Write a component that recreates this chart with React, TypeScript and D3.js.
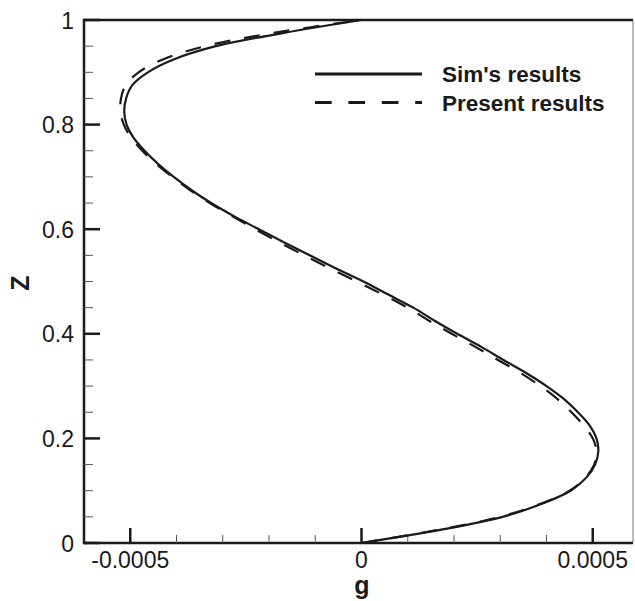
import React, { useRef, useEffect } from "react";
import * as d3 from "d3";

const zValues = [
  0, 0.025, 0.05, 0.075, 0.1, 0.125, 0.15, 0.175, 0.2, 0.225, 0.25, 0.275,
  0.3, 0.325, 0.35, 0.375, 0.4, 0.425, 0.45, 0.475, 0.5, 0.525, 0.55, 0.575,
  0.6, 0.625, 0.65, 0.675, 0.7, 0.725, 0.75, 0.775, 0.8, 0.825, 0.85, 0.875,
  0.9, 0.925, 0.95, 0.975, 1,
];

// Sim's results (solid)
const simG = [
  0, 0.00017, 0.000305, 0.00039, 0.000452, 0.000486, 0.000505, 0.000512,
  0.000508, 0.000493, 0.000468, 0.000438, 0.0004, 0.000356, 0.000307,
  0.000259, 0.000207, 0.000158, 0.000112, 0.000058, 0.000004, -0.000055,
  -0.000112, -0.000168, -0.000222, -0.000276, -0.000325, -0.000368, -0.000406,
  -0.00044, -0.000469, -0.000493, -0.000508, -0.000513, -0.000509, -0.000496,
  -0.000462, -0.000405, -0.000315, -0.00017, 0,
];

// Present results (dashed)
const presentG = [
  0, 0.000165, 0.0003, 0.000387, 0.00045, 0.000484, 0.000503, 0.000508,
  0.0005, 0.00048, 0.000454, 0.000424, 0.000387, 0.000344, 0.000295,
  0.000246, 0.000195, 0.000146, 0.0001, 0.000046, -0.00001, -0.000068,
  -0.000124, -0.000178, -0.00023, -0.00028, -0.000328, -0.000371, -0.000409,
  -0.000444, -0.000474, -0.000498, -0.000514, -0.000521, -0.00052, -0.00051,
  -0.000482, -0.000428, -0.000338, -0.000192, 0,
];

const xMajorTicks = [-0.0005, 0, 0.0005];
const xTickLabels = ["-0.0005", "0", "0.0005"];
const xMinorTicks = [-0.0004, -0.0003, -0.0002, -0.0001, 0.0001, 0.0002, 0.0003, 0.0004];
const yMajorTicks = [0, 0.2, 0.4, 0.6, 0.8, 1];
const yMinorTicks = [0.05, 0.1, 0.15, 0.25, 0.3, 0.35, 0.45, 0.5, 0.55, 0.65, 0.7, 0.75, 0.85, 0.9, 0.95];

const legendItems = [
  { label: "Sim's results", dash: "none" },
  { label: "Present results", dash: "16.7,16.7" },
];

const App = () => {
  const ref = useRef(null);

  useEffect(() => {
    const width = 635;
    const height = 601;
    const left = 84;
    const right = 633;
    const top = 20;
    const bottom = 543;

    const svg = d3.select(ref.current);
    svg.selectAll("*").remove();

    const x = d3.scaleLinear().domain([-0.0006, 0.000587]).range([left, right]);
    const y = d3.scaleLinear().domain([0, 1]).range([bottom, top]);

    const font = "'Liberation Sans', Arial, sans-serif";
    const ink = "#1a1a1a";

    // frame
    svg.append("line").attr("x1", left).attr("x2", right).attr("y1", top).attr("y2", top)
      .attr("stroke", ink).attr("stroke-width", 2.5);
    svg.append("line").attr("x1", left).attr("x2", right).attr("y1", bottom).attr("y2", bottom)
      .attr("stroke", ink).attr("stroke-width", 2.5);
    svg.append("line").attr("x1", left).attr("x2", left).attr("y1", top - 1.2).attr("y2", bottom + 1.2)
      .attr("stroke", ink).attr("stroke-width", 2.5);
    svg.append("line").attr("x1", right).attr("x2", right).attr("y1", top).attr("y2", bottom)
      .attr("stroke", "#777").attr("stroke-width", 1);

    // x ticks (drawn inward)
    svg.selectAll(".xmin").data(xMinorTicks).enter().append("line")
      .attr("x1", (d) => x(d)).attr("x2", (d) => x(d))
      .attr("y1", bottom).attr("y2", bottom - 8)
      .attr("stroke", "#555").attr("stroke-width", 1);
    svg.selectAll(".xmaj").data(xMajorTicks).enter().append("line")
      .attr("x1", (d) => x(d)).attr("x2", (d) => x(d))
      .attr("y1", bottom).attr("y2", bottom - 15)
      .attr("stroke", ink).attr("stroke-width", 2.5);
    svg.selectAll(".xlab").data(xMajorTicks).enter().append("text")
      .attr("x", (d) => x(d)).attr("y", 568)
      .attr("text-anchor", "middle")
      .attr("font-family", font).attr("font-size", 23).attr("fill", ink)
      .text((d, i) => xTickLabels[i]);

    // y ticks
    svg.selectAll(".ymin").data(yMinorTicks).enter().append("line")
      .attr("x1", left).attr("x2", left + 9)
      .attr("y1", (d) => y(d)).attr("y2", (d) => y(d))
      .attr("stroke", "#555").attr("stroke-width", 1);
    svg.selectAll(".ymaj").data(yMajorTicks).enter().append("line")
      .attr("x1", left).attr("x2", left + 16)
      .attr("y1", (d) => y(d)).attr("y2", (d) => y(d))
      .attr("stroke", ink).attr("stroke-width", 2.5);
    svg.selectAll(".ylab").data(yMajorTicks).enter().append("text")
      .attr("x", 74).attr("y", (d) => y(d) + 8.5)
      .attr("text-anchor", "end")
      .attr("font-family", font).attr("font-size", 23).attr("fill", ink)
      .text((d) => String(d));

    // axis titles
    svg.append("text")
      .attr("x", 362).attr("y", 594)
      .attr("text-anchor", "middle")
      .attr("font-family", font).attr("font-size", 25).attr("font-weight", "bold").attr("fill", ink)
      .text("g");
    svg.append("text")
      .attr("transform", `translate(29,283) rotate(-90)`)
      .attr("text-anchor", "middle")
      .attr("font-family", font).attr("font-size", 25).attr("font-weight", "bold").attr("fill", ink)
      .text("Z");

    // curves
    const line = d3.line()
      .x((d) => x(d[0]))
      .y((d) => y(d[1]))
      .curve(d3.curveCatmullRom);

    svg.append("path")
      .datum(zValues.map((z, i) => [simG[i], z]))
      .attr("fill", "none").attr("stroke", ink).attr("stroke-width", 2.2)
      .attr("d", line);
    svg.append("path")
      .datum(zValues.map((z, i) => [presentG[i], z]))
      .attr("fill", "none").attr("stroke", ink).attr("stroke-width", 2.2)
      .attr("stroke-dasharray", "16,14")
      .attr("d", line);

    // legend
    const lg = svg.selectAll(".legend").data(legendItems).enter().append("g")
      .attr("transform", (d, i) => `translate(0,${74 + i * 28.5})`);
    lg.append("line")
      .attr("x1", 315).attr("x2", 422).attr("y1", 0).attr("y2", 0)
      .attr("stroke", ink).attr("stroke-width", 2.8)
      .attr("stroke-dasharray", (d) => d.dash);
    lg.append("text")
      .attr("x", 442).attr("y", 8)
      .attr("font-family", font).attr("font-size", 22.5).attr("font-weight", "bold").attr("fill", ink)
      .text((d) => d.label);

    svg.attr("width", width).attr("height", height);
  }, []);

  return (
    <svg
      ref={ref}
      width={635}
      height={601}
      style={{ position: "absolute", left: 0, top: 0, background: "#fff" }}
    ></svg>
  );
};

export default App;
